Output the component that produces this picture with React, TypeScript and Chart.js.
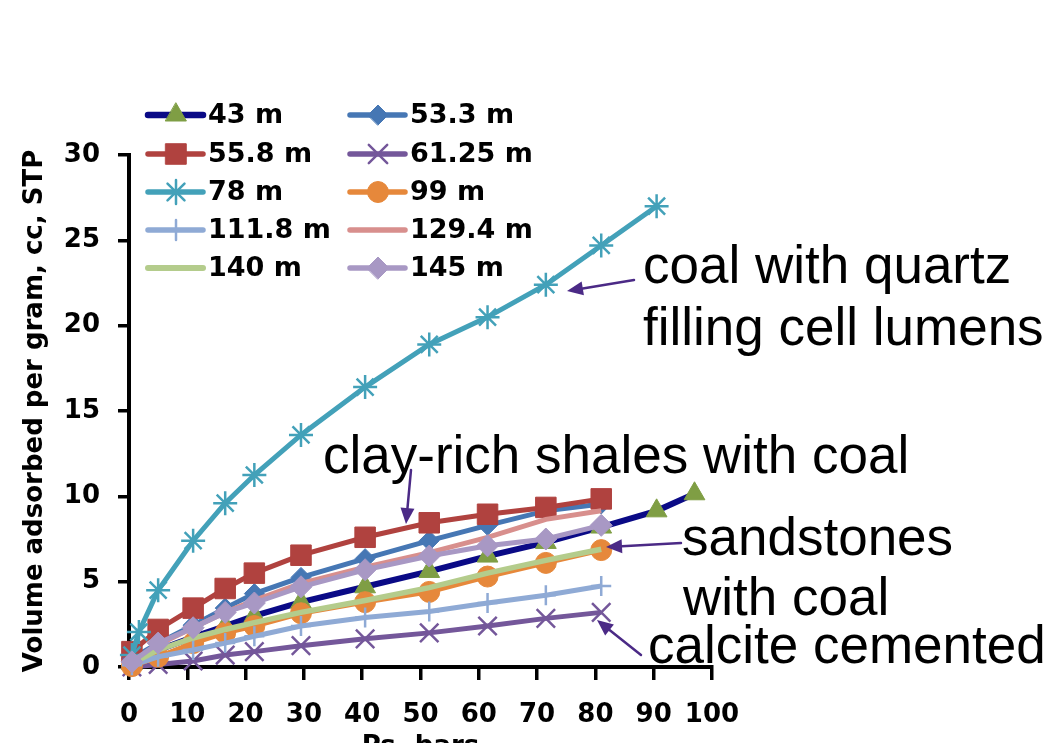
import React, { useEffect, useRef } from 'react';
import { Chart, registerables } from 'chart.js';
import { drawPoint } from 'chart.js/helpers';

Chart.register(...registerables);

// ---- data ----
const pressure = [0.5, 5, 11, 16.5, 21.5, 29.5, 40.5, 51.5, 61.5, 71.5, 81];
const pressure43 = [0.5, 5, 11, 16.5, 21.5, 29.5, 40.5, 51.5, 61.5, 71.5, 81, 90.5, 97];
const pressure78 = [0.5, 1.7, 5, 11, 16.5, 21.5, 29.5, 40.5, 51.5, 61.5, 71.5, 81, 90.5];

const v43 = [0.2, 1.0, 1.75, 2.4, 3.0, 3.8, 4.7, 5.6, 6.5, 7.3, 8.2, 9.15, 10.15];
const v53_3 = [0.5, 1.4, 2.45, 3.45, 4.3, 5.25, 6.35, 7.4, 8.3, 9.15, 9.55];
const v55_8 = [0.9, 2.2, 3.45, 4.6, 5.5, 6.55, 7.6, 8.45, 8.95, 9.35, 9.85];
const v61_25 = [0.0, 0.15, 0.35, 0.7, 0.9, 1.25, 1.65, 2.0, 2.4, 2.85, 3.2];
const v78 = [0.7, 2.05, 4.5, 7.4, 9.6, 11.25, 13.6, 16.4, 18.9, 20.5, 22.4, 24.7, 27.0];
const v99 = [0.05, 0.6, 1.4, 2.0, 2.4, 3.15, 3.8, 4.4, 5.3, 6.1, 6.85];
const v111_8 = [0.1, 0.6, 1.0, 1.4, 1.8, 2.4, 2.9, 3.25, 3.75, 4.2, 4.75];
const v129_4 = [0.3, 1.3, 2.3, 3.2, 3.9, 4.9, 5.85, 6.7, 7.6, 8.65, 9.15];
const v140 = [0.2, 1.0, 1.7, 2.2, 2.6, 3.2, 3.9, 4.65, 5.5, 6.25, 6.9];
const v145 = [0.3, 1.4, 2.3, 3.2, 3.75, 4.7, 5.7, 6.5, 7.1, 7.5, 8.3];

const seriesLabels = ['43 m', '53.3 m', '55.8 m', '61.25 m', '78 m', '99 m', '111.8 m', '129.4 m', '140 m', '145 m'];
const seriesX = [pressure43, pressure, pressure, pressure, pressure78, pressure, pressure, pressure, pressure, pressure];
const seriesY = [v43, v53_3, v55_8, v61_25, v78, v99, v111_8, v129_4, v140, v145];

const xAxisMax = 100;
const xTickStep = 10;
const yAxisMax = 30;
const yTickStep = 5;
const xTitle = 'Ps, bars';
const yTitle = 'Volume adsorbed per gram, cc, STP';

const annotationLines = [
  { text: 'coal with quartz', x: 643, y: 283 },
  { text: 'filling cell lumens', x: 643, y: 345 },
  { text: 'clay-rich shales with coal', x: 323, y: 473 },
  { text: 'sandstones', x: 682, y: 555 },
  { text: 'with coal', x: 683, y: 615 },
  { text: 'calcite cemented', x: 648, y: 663 },
];
const arrows = [
  { x1: 634, y1: 280, x2: 567, y2: 291 },
  { x1: 411, y1: 470, x2: 406, y2: 524 },
  { x1: 681, y1: 543, x2: 606, y2: 547 },
  { x1: 641, y1: 655, x2: 597, y2: 620 },
];

// ---- styles ----
type Sty = { line: string; fill: string; style: any; radius: number; bw: number; lw: number };
const styles: Sty[] = [
  { line: '#0A0A86', fill: '#7F9E44', style: 'triangle', radius: 12, bw: 1, lw: 6 },
  { line: '#4677B4', fill: '#4677B4', style: 'rectRot', radius: 10, bw: 1, lw: 5 },
  { line: '#B0423F', fill: '#B0423F', style: 'rect', radius: 14.5, bw: 1, lw: 5 },
  { line: '#74579A', fill: '#74579A', style: 'crossRot', radius: 13, bw: 2.5, lw: 5 },
  { line: '#43A1B9', fill: '#43A1B9', style: 'star', radius: 12, bw: 2.5, lw: 5 },
  { line: '#E6883B', fill: '#E6883B', style: 'circle', radius: 10.5, bw: 1, lw: 5 },
  { line: '#8FAAD5', fill: '#8FAAD5', style: 'cross', radius: 10, bw: 2.5, lw: 5 },
  { line: '#D88F8D', fill: '#D88F8D', style: false, radius: 0, bw: 0, lw: 5 },
  { line: '#B4CC8C', fill: '#B4CC8C', style: false, radius: 0, bw: 0, lw: 5.5 },
  { line: '#A898C4', fill: '#A898C4', style: 'rectRot', radius: 11, bw: 1, lw: 5 },
];

const axisFont = { family: 'DejaVu Sans', weight: 'bold' as const, size: 26 };

const overlayPlugin = {
  id: 'overlay',
  afterDraw(chart: any) {
    const ctx: CanvasRenderingContext2D = chart.ctx;
    ctx.save();
    // legend
    const colX = [148, 350];
    const rowY = [115, 154, 192, 230, 268];
    ctx.font = 'bold 27px "DejaVu Sans"';
    ctx.textBaseline = 'middle';
    ctx.textAlign = 'left';
    seriesLabels.forEach((lab, i) => {
      const c = i % 2;
      const r = Math.floor(i / 2);
      const x0 = colX[c];
      const y = rowY[r];
      const s = styles[i];
      ctx.strokeStyle = s.line;
      ctx.lineWidth = s.lw + 0.5;
      ctx.lineCap = 'round';
      ctx.beginPath();
      ctx.moveTo(x0, y);
      ctx.lineTo(x0 + 55, y);
      ctx.stroke();
      if (s.style) {
        ctx.fillStyle = s.fill;
        ctx.strokeStyle = s.fill;
        ctx.lineWidth = s.bw;
        drawPoint(ctx, { pointStyle: s.style, radius: s.radius, rotation: 0, borderWidth: s.bw }, x0 + 28, y);
      }
      ctx.fillStyle = '#000';
      ctx.fillText(lab, x0 + 60, y + 1);
    });
    // annotations
    ctx.font = '53px "Liberation Sans", Arial, sans-serif';
    ctx.textBaseline = 'alphabetic';
    ctx.fillStyle = '#000';
    annotationLines.forEach((a) => ctx.fillText(a.text, a.x, a.y));
    // arrows
    ctx.strokeStyle = '#4B2A86';
    ctx.fillStyle = '#4B2A86';
    ctx.lineWidth = 2.5;
    arrows.forEach((a) => {
      const ang = Math.atan2(a.y2 - a.y1, a.x2 - a.x1);
      const hl = 16;
      const hw = 7;
      const bx = a.x2 - hl * Math.cos(ang);
      const by = a.y2 - hl * Math.sin(ang);
      ctx.beginPath();
      ctx.moveTo(a.x1, a.y1);
      ctx.lineTo(bx, by);
      ctx.stroke();
      ctx.beginPath();
      ctx.moveTo(a.x2, a.y2);
      ctx.lineTo(bx + hw * Math.sin(ang), by - hw * Math.cos(ang));
      ctx.lineTo(bx - hw * Math.sin(ang), by + hw * Math.cos(ang));
      ctx.closePath();
      ctx.fill();
    });
    // axis titles
    const area = chart.chartArea;
    ctx.fillStyle = '#000';
    ctx.font = 'bold 26px "DejaVu Sans"';
    ctx.textAlign = 'center';
    ctx.textBaseline = 'alphabetic';
    ctx.fillText(xTitle, (area.left + area.right) / 2, 754);
    ctx.translate(42, (area.top + area.bottom) / 2);
    ctx.rotate(-Math.PI / 2);
    ctx.fillText(yTitle, 0, 0);
    ctx.restore();
  },
};

export default function App() {
  const ref = useRef<HTMLCanvasElement | null>(null);
  useEffect(() => {
    if (!ref.current) return;
    const datasets = seriesLabels.map((lab, i) => {
      const s = styles[i];
      return {
        label: lab,
        data: seriesX[i].map((x, k) => ({ x, y: seriesY[i][k] })),
        borderColor: s.line,
        backgroundColor: s.fill,
        borderWidth: s.lw,
        pointStyle: s.style,
        pointRadius: s.radius,
        pointBackgroundColor: s.fill,
        pointBorderColor: s.fill,
        pointBorderWidth: s.bw,
        tension: 0,
        clip: false as any,
        order: 9 - i,
        showLine: true,
      };
    });
    const chart = new Chart(ref.current, {
      type: 'line',
      data: { datasets },
      options: {
        responsive: false,
        animation: false,
        devicePixelRatio: 1,
        layout: { padding: { top: 155, right: 341, bottom: 0, left: 0 } },
        plugins: { legend: { display: false }, tooltip: { enabled: false }, title: { display: false } },
        scales: {
          x: {
            type: 'linear',
            min: 0,
            max: xAxisMax,
            ticks: { stepSize: xTickStep, font: axisFont, color: '#000', padding: 20, maxRotation: 0 },
            grid: { drawOnChartArea: false, drawTicks: true, tickLength: 13, color: '#000', lineWidth: 3.5 },
            border: { display: true, color: '#000', width: 4 },
            afterFit: (s: any) => { s.height = 76; },
          },
          y: {
            min: 0,
            max: yAxisMax,
            ticks: { stepSize: yTickStep, font: axisFont, color: '#000', padding: 18 },
            grid: { drawOnChartArea: false, drawTicks: true, tickLength: 11, color: '#000', lineWidth: 3.5 },
            border: { display: true, color: '#000', width: 4 },
            afterFit: (s: any) => { s.width = 129; },
          },
        },
      },
      plugins: [overlayPlugin],
    });
    return () => chart.destroy();
  }, []);
  return (
    <div style={{ position: 'fixed', left: 0, top: 0, width: 1053, height: 743, background: '#fff', overflow: 'hidden' }}>
      <canvas ref={ref} width={1053} height={743} style={{ width: '1053px', height: '743px' }} />
    </div>
  );
}
